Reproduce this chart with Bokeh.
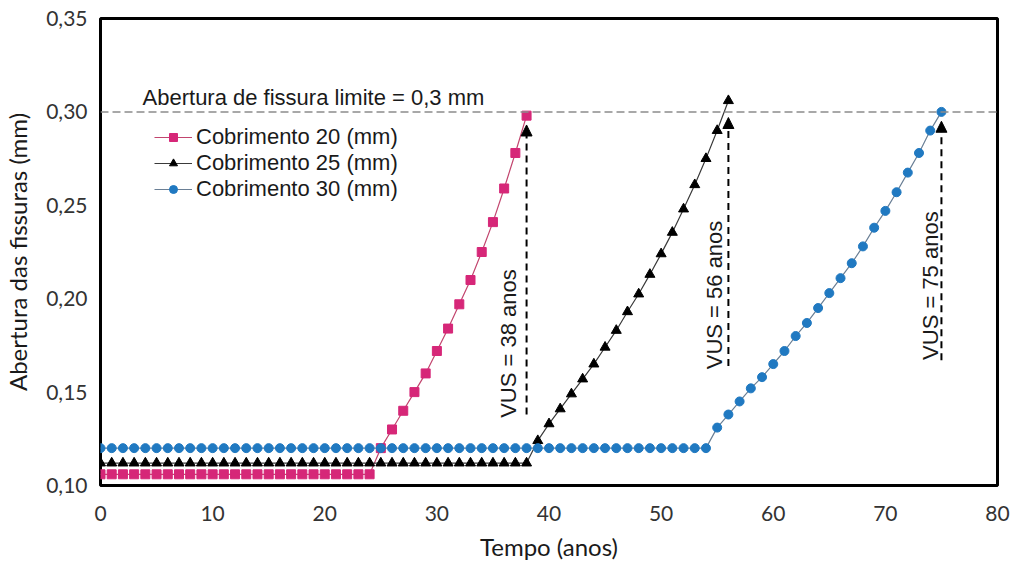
import math
from bokeh.plotting import figure
from bokeh.models import (Range1d, FixedTicker, CustomJSTickFormatter, Span, Arrow,
                          NormalHead, Legend, LegendItem, ColumnDataSource)
from bokeh.embed import file_html
from bokeh.resources import INLINE
from bokeh.core.properties import value

# ---------------- data ----------------
anos_20 = list(range(0, 39))
abertura_20 = [0.106, 0.106, 0.106, 0.106, 0.106, 0.106, 0.106, 0.106, 0.106, 0.106,
               0.106, 0.106, 0.106, 0.106, 0.106, 0.106, 0.106, 0.106, 0.106, 0.106,
               0.106, 0.106, 0.106, 0.106, 0.106,
               0.120, 0.130, 0.140, 0.150, 0.160, 0.172, 0.184, 0.197, 0.210, 0.225,
               0.241, 0.259, 0.278, 0.298]

anos_25 = list(range(0, 57))
abertura_25 = [0.112, 0.112, 0.112, 0.112, 0.112, 0.112, 0.112, 0.112, 0.112, 0.112,
               0.112, 0.112, 0.112, 0.112, 0.112, 0.112, 0.112, 0.112, 0.112, 0.112,
               0.112, 0.112, 0.112, 0.112, 0.112, 0.112, 0.112, 0.112, 0.112, 0.112,
               0.112, 0.112, 0.112, 0.112, 0.112, 0.112, 0.112, 0.112, 0.112,
               0.124, 0.133, 0.141, 0.149, 0.157, 0.165, 0.174, 0.183, 0.193, 0.2025,
               0.213, 0.224, 0.2355, 0.248, 0.261, 0.275, 0.290, 0.306]

anos_30 = list(range(0, 76))
abertura_30 = [0.120, 0.120, 0.120, 0.120, 0.120, 0.120, 0.120, 0.120, 0.120, 0.120,
               0.120, 0.120, 0.120, 0.120, 0.120, 0.120, 0.120, 0.120, 0.120, 0.120,
               0.120, 0.120, 0.120, 0.120, 0.120, 0.120, 0.120, 0.120, 0.120, 0.120,
               0.120, 0.120, 0.120, 0.120, 0.120, 0.120, 0.120, 0.120, 0.120, 0.120,
               0.120, 0.120, 0.120, 0.120, 0.120, 0.120, 0.120, 0.120, 0.120, 0.120,
               0.120, 0.120, 0.120, 0.120, 0.120,
               0.131, 0.138, 0.145, 0.152, 0.158, 0.165, 0.172, 0.180, 0.187, 0.195,
               0.203, 0.211, 0.219, 0.228, 0.238, 0.247, 0.257, 0.2675, 0.278, 0.290,
               0.300]

serie_labels = ["Cobrimento 20 (mm)", "Cobrimento 25 (mm)", "Cobrimento 30 (mm)"]

limite = 0.30
limite_label = "Abertura de fissura limite = 0,3 mm"
limite_label_x = 3.75
limite_label_y = 0.3075

vus_anos = [38, 56, 75]
vus_y_start = [0.138, 0.164, 0.167]
vus_y_end = [0.293, 0.297, 0.295]
vus_text = ["VUS = 38 anos", "VUS = 56 anos", "VUS = 75 anos"]
vus_text_x = [36.4, 54.8, 74.0]
vus_text_y = [0.176, 0.202, 0.207]

x_ticks = [0, 10, 20, 30, 40, 50, 60, 70, 80]
y_ticks = [0.10, 0.15, 0.20, 0.25, 0.30, 0.35]

# ---------------- figure ----------------
TXT = "Liberation Sans"
TICKFONT = "Lato"

p = figure(width=1014, height=564, output_backend="svg", toolbar_location=None,
           x_range=Range1d(0, 80), y_range=Range1d(0.10, 0.35),
           min_border_left=100, min_border_right=17, min_border_top=18, min_border_bottom=79)
p.background_fill_color = "white"
p.border_fill_color = "white"
p.outline_line_color = "black"
p.outline_line_width = 3
p.xgrid.visible = False
p.ygrid.visible = False

for ax in (p.xaxis[0], p.yaxis[0]):
    ax.axis_line_color = None
    ax.major_tick_line_color = None
    ax.minor_tick_line_color = None
    ax.major_label_text_font = TICKFONT
    ax.major_label_text_font_size = "21px"
    ax.major_label_text_color = "#333333"
    ax.axis_label_text_font = TICKFONT
    ax.axis_label_text_font_size = "24px"
    ax.axis_label_text_font_style = "normal"
    ax.axis_label_text_color = "#1a1a1a"

p.xaxis.ticker = FixedTicker(ticks=x_ticks)
p.yaxis.ticker = FixedTicker(ticks=y_ticks)
p.yaxis.formatter = CustomJSTickFormatter(code="return tick.toFixed(2).replace('.', ',');")
p.xaxis.axis_label = "Tempo (anos)"
p.yaxis.axis_label = "Abertura das fissuras (mm)"
p.xaxis.major_label_standoff = 14
p.xaxis.axis_label_standoff = 8
p.yaxis.major_label_standoff = 7
p.yaxis.axis_label_standoff = 11

# threshold line
p.add_layout(Span(location=limite, dimension="width", line_color="#8c8c8c",
                  line_dash="8 4", line_width=1.5))
p.text(x=[limite_label_x], y=[limite_label_y], text=[limite_label],
       text_font=value(TXT), text_font_size="22px", text_color="#1a1a1a",
       text_align="left", text_baseline="middle")

# series
l1 = p.line(anos_20, abertura_20, line_color="#c2456e", line_width=1.2)
s1 = p.scatter(anos_20, abertura_20, marker="square", size=9,
               fill_color="#d62778", line_color="#d62778")
l2 = p.line(anos_25, abertura_25, line_color="#3a3a3a", line_width=1.2)
s2 = p.scatter(anos_25, abertura_25, marker="triangle", size=10,
               fill_color="black", line_color="black")
l3 = p.line(anos_30, abertura_30, line_color="#6a7f95", line_width=1.2)
s3 = p.scatter(anos_30, abertura_30, marker="circle", size=9,
               fill_color="#2079c1", line_color="#2079c1")

# VUS arrows
arrow_src = ColumnDataSource(dict(x0=vus_anos, y0=vus_y_start, x1=vus_anos, y1=vus_y_end))
p.add_layout(Arrow(end=NormalHead(size=11, fill_color="black", line_color="black"),
                   x_start="x0", y_start="y0", x_end="x1", y_end="y1", source=arrow_src,
                   line_color="black", line_width=2, line_dash="7 5"))
p.text(x=vus_text_x, y=vus_text_y, text=vus_text, angle=math.pi / 2,
       text_font=value(TXT), text_font_size="22px", text_color="#1a1a1a",
       text_align="center", text_baseline="middle")

legend = Legend(items=[LegendItem(label=serie_labels[0], renderers=[l1, s1]),
                       LegendItem(label=serie_labels[1], renderers=[l2, s2]),
                       LegendItem(label=serie_labels[2], renderers=[l3, s3])],
                location=(54, 283), padding=0, margin=0, spacing=0,
                border_line_color=None, background_fill_alpha=0,
                glyph_width=38, glyph_height=20, label_standoff=4,
                label_text_font=TXT, label_text_font_size="22px",
                label_text_line_height=0.85,
                label_text_color="#1a1a1a", label_height=20)
p.add_layout(legend)

open("out.html", "w").write(file_html(p, INLINE))
